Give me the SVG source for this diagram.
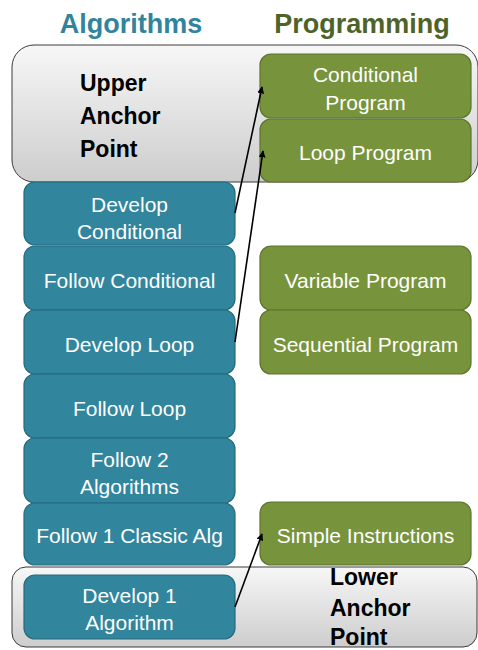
<svg xmlns="http://www.w3.org/2000/svg" width="478" height="650" viewBox="0 0 478 650">
<defs>
<linearGradient id="anchorGrad" x1="0" y1="0" x2="0" y2="1">
<stop offset="0" stop-color="#f7f7f7"/>
<stop offset="1" stop-color="#cdcdcd"/>
</linearGradient>
<marker id="arrow" viewBox="0 0 10 10" refX="9" refY="5" markerWidth="7" markerHeight="7" markerUnits="userSpaceOnUse" orient="auto">
<path d="M0,0 L10,5 L0,10 z" fill="#000"/>
</marker>
</defs>
<style>
.anchor{fill:url(#anchorGrad);stroke:#3a3a3a;stroke-width:1}
.alg{fill:#31859c;stroke:#276b7e;stroke-width:1.2}
.prog{fill:#77933c;stroke:#5c7430;stroke-width:1.2}
.t{font-family:"Liberation Sans",Arial,sans-serif;font-size:21px;fill:#ffffff;text-anchor:middle}
.h{font-family:"Liberation Sans",Arial,sans-serif;font-size:27px;font-weight:bold;text-anchor:middle}
.a{font-family:"Liberation Sans",Arial,sans-serif;font-size:23px;font-weight:bold;fill:#000}
.c{stroke:#000;stroke-width:1.6;fill:none;marker-end:url(#arrow)}
</style>
<g id="headers">
<text class="h" x="131" y="33" fill="#31849b">Algorithms</text>
<text class="h" x="362" y="33" fill="#4f6228">Programming</text>
</g>
<g id="upper-anchor">
<rect class="anchor" x="12" y="45" width="466" height="137" rx="22"/>
<text class="a" x="80" y="91">Upper</text>
<text class="a" x="80" y="124">Anchor</text>
<text class="a" x="80" y="157">Point</text>
</g>
<g id="lower-anchor">
<rect class="anchor" x="12" y="567" width="465" height="80" rx="14"/>
<text class="a" x="330" y="585">Lower</text>
<text class="a" x="330" y="616">Anchor</text>
<text class="a" x="330" y="645">Point</text>
</g>
<g id="conditional-program">
<rect class="prog" x="260" y="54" width="211" height="64" rx="11"/>
<text class="t" x="365.5" y="82">Conditional</text>
<text class="t" x="365.5" y="110">Program</text>
</g>
<g id="loop-program">
<rect class="prog" x="260" y="119" width="211" height="63" rx="11"/>
<text class="t" x="365.5" y="160">Loop Program</text>
</g>
<g id="variable-program">
<rect class="prog" x="260" y="246" width="211" height="64" rx="11"/>
<text class="t" x="365.5" y="288">Variable Program</text>
</g>
<g id="sequential-program">
<rect class="prog" x="260" y="310" width="211" height="64" rx="11"/>
<text class="t" x="365.5" y="352">Sequential Program</text>
</g>
<g id="simple-instructions">
<rect class="prog" x="260" y="502" width="211" height="63" rx="11"/>
<text class="t" x="365.5" y="543">Simple Instructions</text>
</g>
<g id="develop-conditional">
<rect class="alg" x="24" y="182" width="211" height="63" rx="11"/>
<text class="t" x="129.5" y="212">Develop</text>
<text class="t" x="129.5" y="239">Conditional</text>
</g>
<g id="follow-conditional">
<rect class="alg" x="24" y="246" width="211" height="64" rx="11"/>
<text class="t" x="129.5" y="288">Follow Conditional</text>
</g>
<g id="develop-loop">
<rect class="alg" x="24" y="310" width="211" height="64" rx="11"/>
<text class="t" x="129.5" y="352">Develop Loop</text>
</g>
<g id="follow-loop">
<rect class="alg" x="24" y="374" width="211" height="64" rx="11"/>
<text class="t" x="129.5" y="416">Follow Loop</text>
</g>
<g id="follow-2-algorithms">
<rect class="alg" x="24" y="438" width="211" height="65" rx="11"/>
<text class="t" x="129.5" y="467">Follow 2</text>
<text class="t" x="129.5" y="494">Algorithms</text>
</g>
<g id="follow-1-classic-alg">
<rect class="alg" x="24" y="503" width="211" height="62" rx="11"/>
<text class="t" x="129.5" y="543">Follow 1 Classic Alg</text>
</g>
<g id="develop-1-algorithm">
<rect class="alg" x="24" y="575" width="211" height="64" rx="11"/>
<text class="t" x="129.5" y="603">Develop 1</text>
<text class="t" x="129.5" y="630">Algorithm</text>
</g>
<g id="connectors">
<line class="c" x1="235" y1="213" x2="262" y2="87"/>
<line class="c" x1="235" y1="342" x2="263" y2="151"/>
<line class="c" x1="235" y1="607" x2="262" y2="534"/>
</g>
</svg>
